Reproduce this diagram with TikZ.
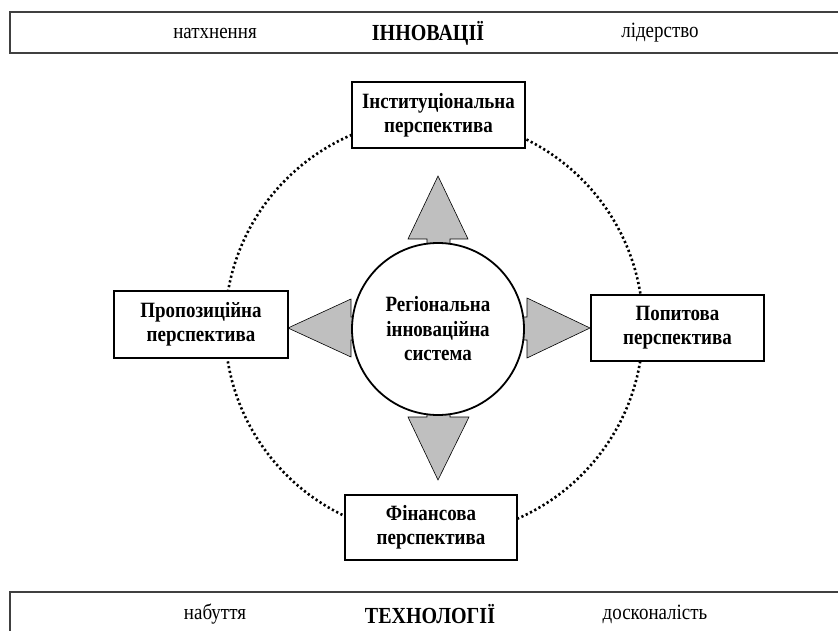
\documentclass[tikz,border=0pt]{standalone}
\usepackage{fontspec}
\setmainfont{Liberation Serif}[FakeStretch=0.87]
\begin{document}
\begin{tikzpicture}[x=1pt,y=-1pt,
  persp/.style={draw,line width=2.2pt,fill=white,minimum width=173pt,minimum height=66pt,inner sep=0pt,align=center,font=\bfseries\fontsize{21.8}{24}\selectfont},
  arr/.style={fill=black!25,draw=black,line width=0.6pt,line join=miter},
  bar/.style={draw=black!75,line width=1.3pt},
  bartxt/.style={font=\fontsize{21.8}{22}\selectfont,inner sep=0pt},
  bartitle/.style={font=\bfseries\fontsize{23}{24}\selectfont,inner sep=0pt},
  dots/.style={line width=2.6pt,dash pattern=on 2.2pt off 2.6pt}]
\useasboundingbox (0,0) rectangle (838,631);
\begin{scope}
  \clip (0,0) rectangle (838,631);
  \draw[bar] (10,12) rectangle (860,53);
  \draw[bar] (10,592) rectangle (860,650);
\end{scope}
\node[bartxt] (t1) at (215,33) {натхнення};
\node[bartitle] (t2) at (428,33) {ІННОВАЦІЇ};
\node[bartxt] (t3) at (660,33) {лідерство};
\node[bartxt] (b1) at (215,614) {набуття};
\node[bartitle] (b2) at (430,614) {ТЕХНОЛОГІЇ};
\node[bartxt] (b3) at (655,614) {досконалість};
% dotted ring
\draw[dots] (434,327) circle[radius=209pt];
% arrows
\draw[arr] (427,262) -- (427,239) -- (408,239) -- (438,176) -- (468,239) -- (450,239) -- (450,262) -- cycle;
\draw[arr] (427,400) -- (427,417) -- (408,417) -- (438,480) -- (469,417) -- (450,417) -- (450,400) -- cycle;
\draw[arr] (362,317) -- (351,317) -- (351,299) -- (288,328) -- (351,357) -- (351,340) -- (362,340) -- cycle;
\draw[arr] (514,317) -- (527,317) -- (527,298) -- (590,328) -- (527,358) -- (527,340) -- (514,340) -- cycle;
% centre
\node[circle,draw,line width=1.8pt,fill=white,minimum size=172pt,inner sep=0pt,align=center,font=\bfseries\fontsize{21.8}{24.5}\selectfont] (rs) at (438,329) {Регіональна\\інноваційна\\система};
% perspectives
\node[persp] (inst) at (438.5,115) {Інституціональна\\перспектива};
\node[persp,minimum width=174pt,minimum height=67pt] (prop) at (201,324.5) {Пропозиційна\\перспектива};
\node[persp] (pop) at (677.5,328) {Попитова\\перспектива};
\node[persp,minimum width=172pt,minimum height=65pt] (fin) at (431,527.5) {Фінансова\\перспектива};
\end{tikzpicture}
\end{document}
